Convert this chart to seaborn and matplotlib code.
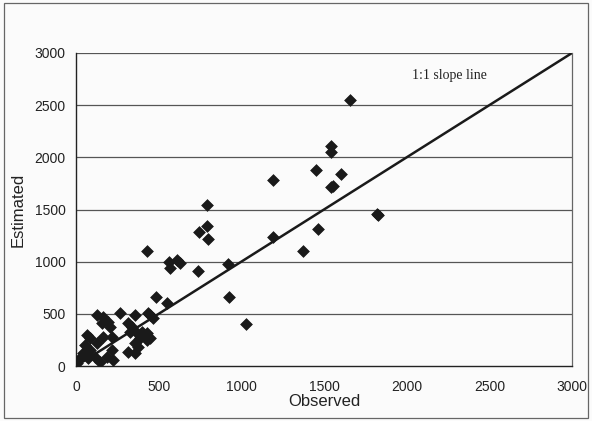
import matplotlib
matplotlib.use("Agg")
import matplotlib.pyplot as plt
import seaborn as sns
import pandas as pd
from matplotlib.patches import Rectangle

observed = [1658, 1540, 1545, 1605, 1545, 1555, 1450, 1464, 1373, 1192, 1192, 1821, 1826,
            1029, 920, 926, 792, 744, 792, 799, 738, 629, 610, 560, 570, 550, 484, 430,
            127, 163, 157, 194, 206, 266, 357, 436, 315, 339, 327, 369, 399, 430, 387,
            430, 357, 375, 315, 357, 448, 67, 85, 54, 85, 127, 163, 218, 42, 24, 73,
            115, 145, 188, 218, 224, 6, 448, 466]
estimated = [2548, 2110, 2050, 1840, 1720, 1724, 1880, 1312, 1102, 1782, 1236, 1456, 1446,
             402, 977, 661, 1542, 1284, 1341, 1217, 910, 987, 1020, 1000, 940, 603, 661, 1100,
             489, 469, 412, 422, 374, 508, 489, 508, 412, 374, 326, 316, 326, 316, 268,
             249, 220, 182, 134, 125, 268, 297, 268, 201, 153, 220, 278, 278, 125, 77, 77,
             86, 38, 86, 153, 57, 29, 489, 460]

df = pd.DataFrame({"Observed": observed, "Estimated": estimated})
line_x = [0, 3000]
line_y = [0, 3000]
x_ticks = [0, 500, 1000, 1500, 2000, 2500, 3000]
y_ticks = [0, 500, 1000, 1500, 2000, 2500, 3000]

sns.set_style("white")
plt.rcParams['font.family'] = ['Liberation Sans', 'DejaVu Sans']

fig = plt.figure(figsize=(5.92, 4.21), dpi=100)
fig.patch.set_facecolor('#fbfbfb')
ax = fig.add_axes([76/592, 1-366/421, (572-76)/592, (366-53)/421])
ax.set_facecolor('#fbfbfb')

ax.set_xlim(0, 3000)
ax.set_ylim(0, 3000)
ax.set_xticks(x_ticks)
ax.set_yticks(y_ticks)
for y in y_ticks[1:]:
    ax.axhline(y, color='#555555', lw=0.9, zorder=0)

sns.lineplot(x=line_x, y=line_y, ax=ax, color='#1a1a1a', lw=1.8, zorder=2)
sns.scatterplot(data=df, x="Observed", y="Estimated", ax=ax, marker='D', s=36,
                color='#1a1a1a', edgecolor='#1a1a1a', linewidth=0.5, zorder=3)

ax.text(2035, 2788, "1:1 slope line", fontsize=10, va='center',
        family=['Liberation Serif'], color='#222222')

for side in ['left', 'bottom']:
    ax.spines[side].set_color('#222222')
    ax.spines[side].set_linewidth(1.0)
ax.spines['right'].set_color('#666666')
ax.spines['right'].set_linewidth(0.9)
ax.spines['top'].set_visible(False)

ax.tick_params(axis='both', direction='out', length=4, width=0.9, color='#333333',
               labelsize=10, labelcolor='#222222')
ax.tick_params(axis='x', pad=6)
ax.set_xlabel("Observed", fontsize=12, labelpad=0, color='#222222')
ax.set_ylabel("Estimated", fontsize=12, labelpad=6, color='#222222')

fig.add_artist(Rectangle((4/592, 3/421), (588-4)/592, (418-3)/421, transform=fig.transFigure,
                         fill=False, edgecolor='#666666', lw=0.9))

fig.savefig("out.png", dpi=100, facecolor=fig.get_facecolor())
